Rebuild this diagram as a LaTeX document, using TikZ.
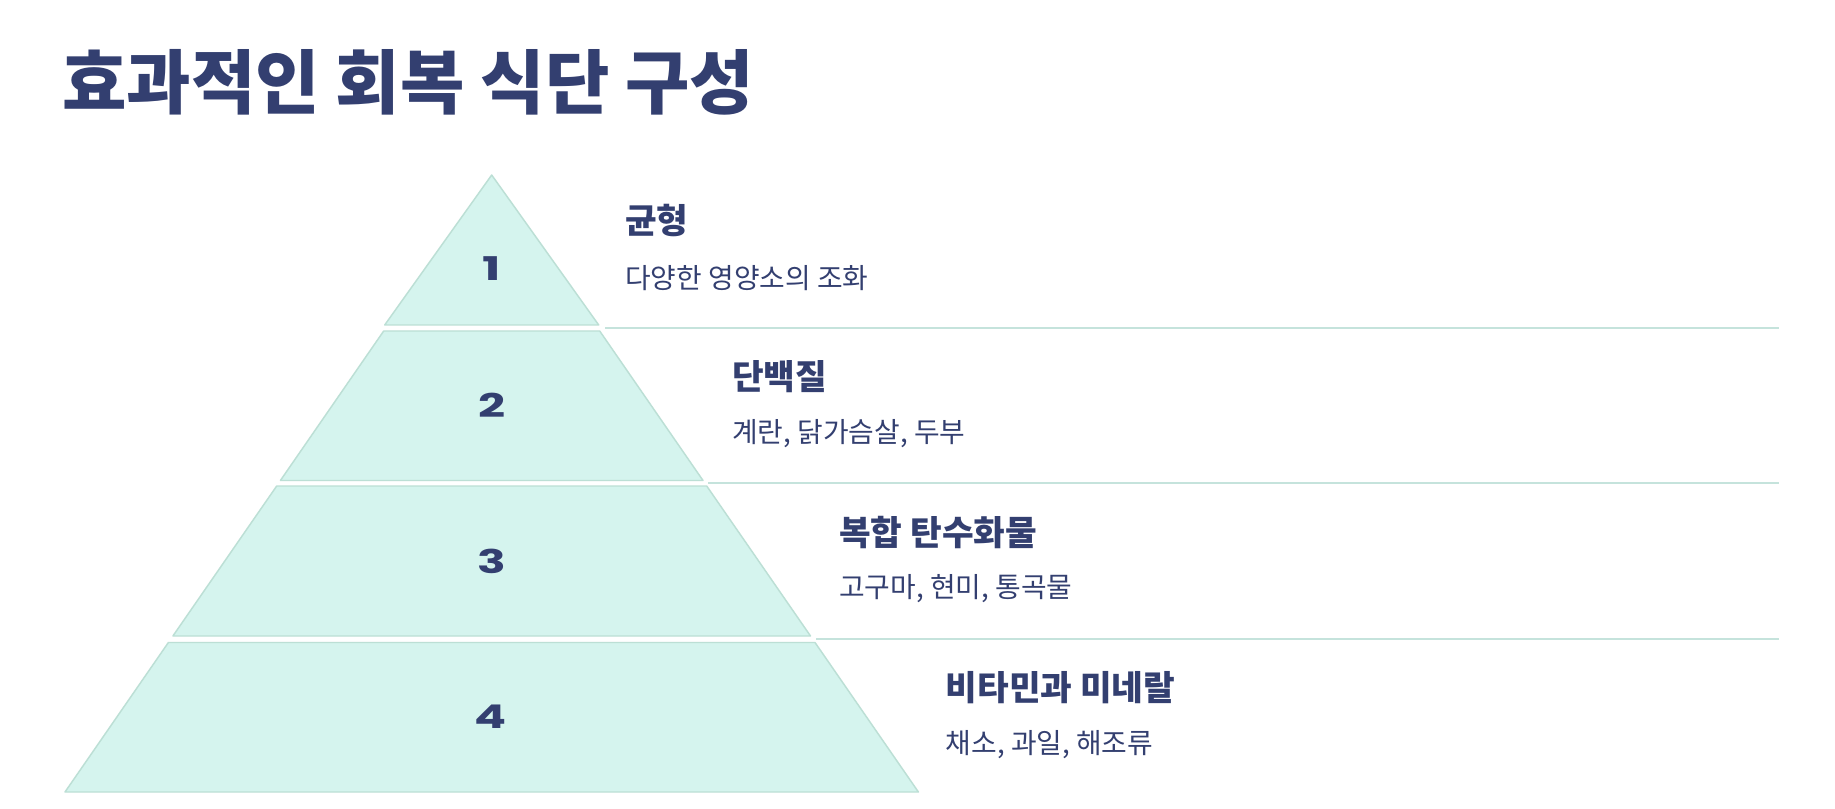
\documentclass[tikz,border=0pt]{standalone}
\usepackage{fontspec}
\setmainfont{Noto Sans CJK KR}
\newfontfamily\krfont{Noto Sans CJK KR}
\newfontfamily\numfont{Poppins}
\definecolor{navy}{HTML}{333F70}
\definecolor{tierfill}{HTML}{D5F4EE}
\definecolor{tierline}{HTML}{BCDFD5}
\definecolor{sepline}{HTML}{C5E3DC}
\begin{document}
\begin{tikzpicture}[x=0.75pt,y=-0.75pt,
  tier/.style={fill=tierfill,draw=tierline,line width=1.1pt,line join=round},
  sep/.style={draw=sepline,line width=1.3pt},
  num/.style={inner sep=0,text=navy,font=\numfont\bfseries\fontsize{24.5pt}{28pt}\selectfont},
  head/.style={anchor=west,inner sep=0,text=navy,font=\krfont\bfseries\fontsize{25.8pt}{30pt}\selectfont},
  desc/.style={anchor=west,inner sep=0,text=navy,font=\krfont\fontsize{20.9pt}{25pt}\selectfont},
  ttl/.style={anchor=west,inner sep=0,text=navy,font=\krfont\bfseries\fontsize{52.5pt}{60pt}\selectfont}]
\useasboundingbox (0,0) rectangle (1835,809);
\fill[white] (0,0) rectangle (1835,809);
% title
\node[ttl] (title) at (62,82) {효과적인 회복 식단 구성};
% tiers
\draw[tier] (491.7,175) -- (598.7,325) -- (384.7,325) -- cycle;
\draw[tier] (383.7,331) -- (599.7,331) -- (703,480.5) -- (280.4,480.5) -- cycle;
\draw[tier] (276.7,486) -- (706.7,486) -- (810.5,636) -- (172.9,636) -- cycle;
\draw[tier] (168.4,642.5) -- (815,642.5) -- (918.4,792) -- (65,792) -- cycle;
% separators
\coordinate (s1a) at (605,328);   \coordinate (s1b) at (1779,328);
\coordinate (s2a) at (708,483.3); \coordinate (s2b) at (1779,483.3);
\coordinate (s3a) at (816,639.3); \coordinate (s3b) at (1779,639.3);
\draw[sep] (s1a) -- (s1b);
\draw[sep] (s2a) -- (s2b);
\draw[sep] (s3a) -- (s3b);
% numbers
\node[num] (n1) at (491.5,269) {\scalebox{1.5}[1]{1}};
\node[num] (n2) at (492,405) {\scalebox{1.45}[1]{2}};
\node[num] (n3) at (492,561) {\scalebox{1.45}[1]{3}};
\node[num] (n4) at (491,716.5) {\scalebox{1.45}[1]{4}};
% labels
\node[head] (h1) at (625,220.5) {균형};
\node[desc] (d1) at (625,278) {다양한 영양소의 조화};
\node[head] (h2) at (732,377) {단백질};
\node[desc] (d2) at (732,433.5) {계란, 닭가슴살, 두부};
\node[head] (h3) at (839,532.5) {복합 탄수화물};
\node[desc] (d3) at (839,589) {고구마, 현미, 통곡물};
\node[head] (h4) at (945.5,688) {비타민과 미네랄};
\node[desc] (d4) at (945.5,745) {채소, 과일, 해조류};
\end{tikzpicture}
\end{document}
